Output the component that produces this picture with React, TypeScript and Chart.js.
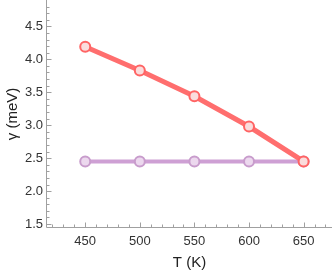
import React, { useEffect, useRef } from "react";
import { Chart, registerables } from "chart.js";

Chart.register(...registerables);

const temperatures = [450, 500, 550, 600, 650];
const gammaRed = [4.19, 3.83, 3.44, 2.98, 2.45];
const gammaPurple = [2.45, 2.45, 2.45, 2.45, 2.45];
const xTicks = [450, 500, 550, 600, 650];
const yTicks = [1.5, 2.0, 2.5, 3.0, 3.5, 4.0, 4.5];
const xRange = [415, 676];
const yRange = [1.44, 4.9];

const axisColor = "#a0a0a0";

const axesPlugin = {
  id: "mmaAxes",
  afterDraw(chart: any) {
    const { ctx, chartArea, scales } = chart;
    const xs = scales.x;
    const ys = scales.y;
    ctx.save();
    ctx.strokeStyle = axisColor;
    ctx.lineWidth = 1;
    const left = Math.round(chartArea.left) - 0.5;
    const bottom = Math.round(chartArea.bottom) - 0.5;
    ctx.beginPath();
    ctx.moveTo(left, chartArea.top);
    ctx.lineTo(left, bottom);
    ctx.lineTo(chartArea.right, bottom);
    ctx.stroke();
    for (let v = 420; v <= xRange[1]; v += 10) {
      const px = Math.round(xs.getPixelForValue(v)) + 0.5;
      const major = v % 50 === 0;
      ctx.beginPath();
      ctx.moveTo(px, bottom);
      ctx.lineTo(px, bottom - (major ? 5 : 3));
      ctx.stroke();
    }
    for (let i = 15; i <= 48; i++) {
      const v = i / 10;
      const py = Math.round(ys.getPixelForValue(v)) + 0.5;
      const major = i % 5 === 0;
      ctx.beginPath();
      ctx.moveTo(left, py);
      ctx.lineTo(left + (major ? 5 : 3), py);
      ctx.stroke();
    }
    ctx.restore();
  },
};

export default function App() {
  const ref = useRef<HTMLCanvasElement>(null);
  useEffect(() => {
    document.body.style.margin = "0";
    const chart = new Chart(ref.current!, {
      type: "line",
      data: {
        labels: temperatures,
        datasets: [
          {
            data: temperatures.map((t, i) => ({ x: t, y: gammaRed[i] })),
            borderColor: "#ff6e6e",
            borderWidth: 5,
            pointRadius: 5,
            pointBorderWidth: 2,
            pointBackgroundColor: "#fadcdc",
            pointBorderColor: "#ff6464",
            clip: 10,
            order: 1,
          },
          {
            data: temperatures.map((t, i) => ({ x: t, y: gammaPurple[i] })),
            borderColor: "rgba(206,160,212,1)",
            borderWidth: 4,
            pointRadius: 5,
            pointBorderWidth: 2,
            pointBackgroundColor: "#ecd8ee",
            pointBorderColor: "#c89ccc",
            clip: 10,
            order: 2,
          },
        ],
      },
      options: {
        animation: false,
        responsive: false,
        plugins: { legend: { display: false }, tooltip: { enabled: false } },
        layout: { padding: 0, autoPadding: false },
        scales: {
          x: {
            type: "linear",
            min: xRange[0],
            max: xRange[1],
            afterBuildTicks: (s: any) => {
              s.ticks = xTicks.map((v) => ({ value: v }));
            },
            afterFit: (s: any) => {
              s.height = 44;
              s.paddingLeft = 0;
              s.paddingRight = 0;
            },
            grid: { display: false, drawTicks: false },
            border: { display: false },
            ticks: {
              padding: 6,
              color: "#333",
              font: { family: "Liberation Sans", size: 13 },
              maxRotation: 0,
            },
            title: {
              display: true,
              text: "T (K)",
              color: "#222",
              font: { family: "Liberation Sans", size: 15 },
              padding: { top: 1, bottom: 0 },
            },
          },
          y: {
            type: "linear",
            min: yRange[0],
            max: yRange[1],
            afterBuildTicks: (s: any) => {
              s.ticks = yTicks.map((v) => ({ value: v }));
            },
            afterFit: (s: any) => {
              s.width = 47;
              s.paddingTop = 0;
              s.paddingBottom = 0;
            },
            grid: { display: false, drawTicks: false },
            border: { display: false },
            ticks: {
              padding: 4,
              color: "#333",
              font: { family: "Liberation Sans", size: 13 },
              callback: (v: any) => Number(v).toFixed(1),
            },
            title: {
              display: true,
              text: "γ (meV)",
              color: "#222",
              font: { family: "Liberation Sans", size: 15 },
              padding: { top: 4, bottom: 2 },
            },
          },
        },
      },
      plugins: [axesPlugin],
    });
    return () => chart.destroy();
  }, []);
  return (
    <div style={{ width: 332, height: 272 }}>
      <canvas ref={ref} width={332} height={272} style={{ display: "block" }} />
    </div>
  );
}
